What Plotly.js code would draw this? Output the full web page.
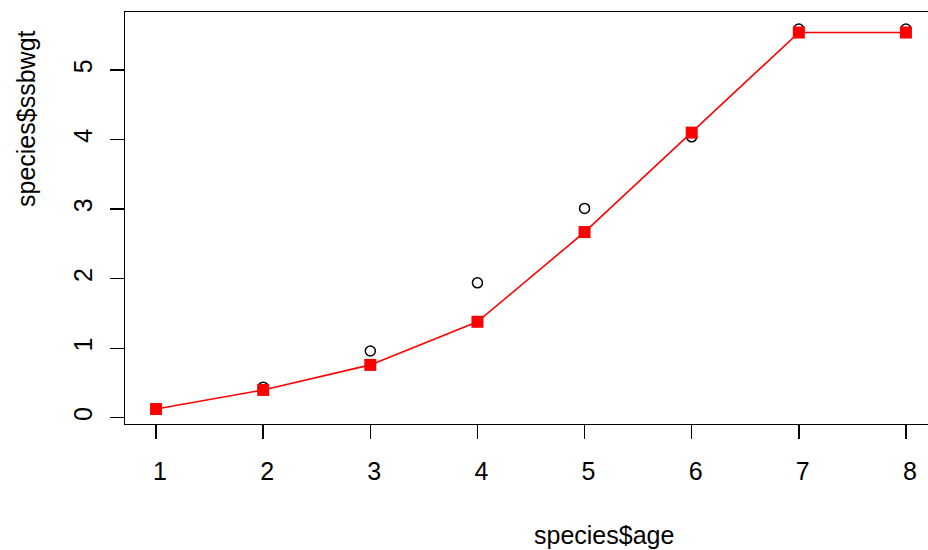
<!DOCTYPE html>
<html>
<head>
<meta charset="utf-8">
<script src="https://cdn.plot.ly/plotly-3.0.1.min.js"></script>
<style>
  html, body { margin: 0; padding: 0; background: #fff; overflow: hidden; }
  #plot { width: 937px; height: 550px; }
</style>
</head>
<body>
<div id="plot"></div>
<script>
// Age classes and spawning-stock body weight
const age = [1, 2, 3, 4, 5, 6, 7, 8];
const ssbwgtObserved = [0.13, 0.44, 0.96, 1.94, 3.01, 4.04, 5.59, 5.59];
const ssbwgtFitted = [0.125, 0.40, 0.76, 1.38, 2.67, 4.10, 5.54, 5.54];
const xTicks = [1, 2, 3, 4, 5, 6, 7, 8];
const yTicks = [0, 1, 2, 3, 4, 5];

const font = { family: "Liberation Sans, Arial, Helvetica, sans-serif", size: 25, color: "#000" };

const observed = {
  x: age, y: ssbwgtObserved,
  type: "scatter", mode: "markers",
  marker: { symbol: "circle-open", size: 10, color: "#000", line: { width: 1.5, color: "#000" } },
  hoverinfo: "x+y"
};

const fitted = {
  x: age, y: ssbwgtFitted,
  type: "scatter", mode: "lines+markers",
  line: { color: "#ff0000", width: 1.6 },
  marker: { symbol: "square", size: 12, color: "#ff0000" },
  hoverinfo: "x+y"
};

const layout = {
  width: 937, height: 550,
  margin: { l: 125, r: 0, t: 12, b: 126 },
  paper_bgcolor: "#fff", plot_bgcolor: "#fff",
  showlegend: false,
  font: font,
  xaxis: {
    range: [0.71, 8.29],
    tickvals: xTicks, ticktext: xTicks.map(String),
    ticks: "outside", ticklen: 14, tickwidth: 1.4, tickcolor: "#000",
    showline: true, mirror: true, linecolor: "#000", linewidth: 1.4,
    showgrid: false, zeroline: false,
    ticklabelstandoff: 11,
    ticklabelshift: 4,
    tickfont: font
  },
  yaxis: {
    range: [-0.09, 5.835],
    tickvals: yTicks, ticktext: yTicks.map(String),
    ticks: "outside", ticklen: 14, tickwidth: 1.4, tickcolor: "#000",
    tickangle: -90,
    showline: true, mirror: true, linecolor: "#000", linewidth: 1.4,
    showgrid: false, zeroline: false,
    ticklabelstandoff: 8,
    tickfont: font
  },
  annotations: [
    {
      text: "species$age", xref: "paper", yref: "paper",
      x: (604 - 125) / 812, y: -(535 - 424) / 412,
      xanchor: "center", yanchor: "middle",
      showarrow: false, font: font
    },
    {
      text: "species$ssbwgt", xref: "paper", yref: "paper",
      x: -(125 - 26) / 812, y: (424 - 119) / 412,
      xanchor: "center", yanchor: "middle", textangle: -90,
      showarrow: false, font: font
    }
  ]
};

Plotly.newPlot("plot", [observed, fitted], layout, { displayModeBar: false, staticPlot: true });
</script>
</body>
</html>
